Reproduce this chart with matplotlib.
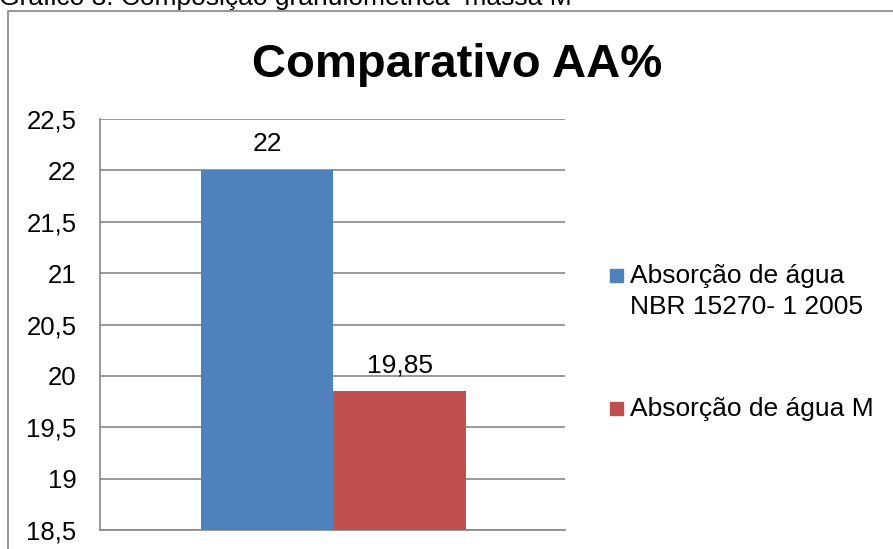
import matplotlib
matplotlib.use('Agg')
from matplotlib import pyplot as plt
from matplotlib.patches import Rectangle

plt.rcParams['font.family'] = ['Liberation Sans', 'DejaVu Sans']

# dados
series = ['Absorção de água\nNBR 15270- 1 2005', 'Absorção de água M']
values = [22, 19.85]
colors = ['#4F81BD', '#C0504D']
yticks = [18.5, 19, 19.5, 20, 20.5, 21, 21.5, 22, 22.5]

W, H = 893, 549
GRAY = '#868686'

def fx(px):
    return px / W

def fy(py):
    return 1 - py / H

fig = plt.figure(figsize=(W / 100, H / 100), dpi=100)

# legenda do documento (cortada no topo)
fig.text(fx(-1), fy(5), 'Gráfico 3: Composição granulométrica  massa M',
         fontsize=19, va='baseline', ha='left')

# moldura do grafico
fig.patches.append(Rectangle((fx(8), fy(560)), fx(900), fy(11) - fy(560),
                             transform=fig.transFigure, fill=False,
                             edgecolor=GRAY, linewidth=1.2))

fig.text(fx(457), fy(77), 'Comparativo AA%', fontsize=34, fontweight='bold',
         ha='center', va='baseline')

ax = fig.add_axes([fx(100), fy(530), fx(565) - fx(100), fy(119) - fy(530)])
for i in range(len(values)):
    b = ax.bar(i, values[i] - yticks[0], bottom=yticks[0], width=1.0,
               color=colors[i], zorder=3)
    ax.bar_label(b, labels=[('%g' % values[i]).replace('.', ',')],
                 padding=10, fontsize=19)

ax.set_xlim(-1.262, 2.247)
ax.set_ylim(yticks[0], yticks[-1])
ax.set_yticks(yticks)
ax.set_yticklabels([('%g' % t).replace('.', ',') for t in yticks], fontsize=18.5)
ax.set_xticks([])
ax.tick_params(axis='y', length=0, pad=17)
ax.grid(axis='y', color=GRAY, linewidth=1.2, zorder=0)
ax.set_axisbelow(True)
for s in ['top', 'right']:
    ax.spines[s].set_visible(False)
for s in ['left', 'bottom']:
    ax.spines[s].set_color(GRAY)
    ax.spines[s].set_linewidth(1.2)

# legenda
leg_y = [269, 402]
for i in range(len(series)):
    fig.patches.append(Rectangle((fx(610), fy(leg_y[i] + 13)), fx(13), fy(0) - fy(13),
                                 transform=fig.transFigure, color=colors[i]))
    for j, line in enumerate(series[i].split('\n')):
        fig.text(fx(630), fy(leg_y[i] + 14 + 31 * j), line, fontsize=19,
                 va='baseline', ha='left')

fig.savefig('out.png', dpi=100)
